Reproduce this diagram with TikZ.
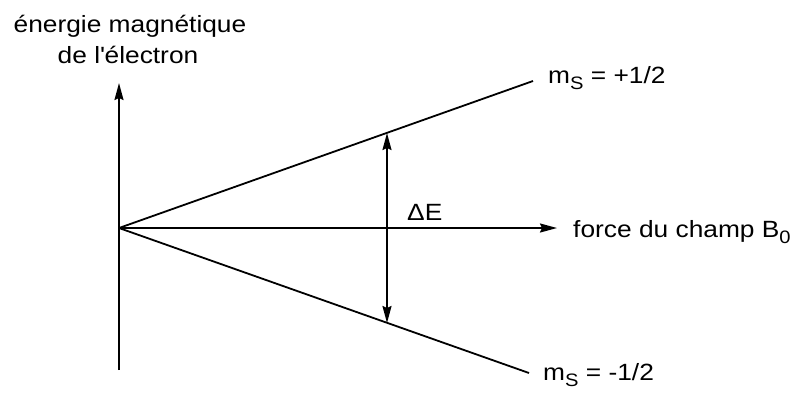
\documentclass[tikz,border=0pt]{standalone}
\usepackage{fontspec}
\setmainfont{Liberation Sans}[FakeStretch=1.12]
\usetikzlibrary{arrows.meta}
\newcommand\mysubs[1]{\raisebox{-0.28em}{\fontsize{18}{18}\selectfont #1}}
\begin{document}
\begin{tikzpicture}[x=1pt,y=-1pt,
  axis/.style={line width=1.8pt},
  tip/.style={-{Stealth[length=17pt,width=9pt,inset=2pt]}},
  lbl/.style={inner sep=0pt,font=\fontsize{23.5}{28}\selectfont},
  every node/.style={inner sep=0pt}]
\useasboundingbox (0,0) rectangle (798,392);
\coordinate (O) at (119,228);
\coordinate (ytop) at (119,83);
\coordinate (ybot) at (119,370);
\coordinate (xend) at (557,228);
\coordinate (up) at (533,81);
\coordinate (dn) at (529,373);
\coordinate (a1) at (387,133);
\coordinate (a2) at (387,323);
\draw[axis,tip] (ybot) -- (ytop);
\draw[axis,tip] (O) -- (xend);
\draw[axis] (O) -- (up);
\draw[axis] (O) -- (dn);
\draw[axis,{Stealth[length=17pt,width=9pt,inset=2pt]}-{Stealth[length=17pt,width=9pt,inset=2pt]}] (a1) -- (a2);
\node[lbl,anchor=base] (t1) at (130,32) {énergie magnétique};
\node[lbl,anchor=base] (t2) at (128,63) {de l\textquotesingle électron};
\node[lbl,anchor=base west] (mp) at (548,83) {m\mysubs{S} = +1/2};
\node[lbl,anchor=base west] (mm) at (543,380) {m\mysubs{S} = -1/2};
\node[lbl,anchor=base west] (f) at (573,237) {force du champ B\mysubs{0}};
\node[lbl,anchor=base west] (dE) at (407,220) {ΔE};
\end{tikzpicture}
\end{document}
